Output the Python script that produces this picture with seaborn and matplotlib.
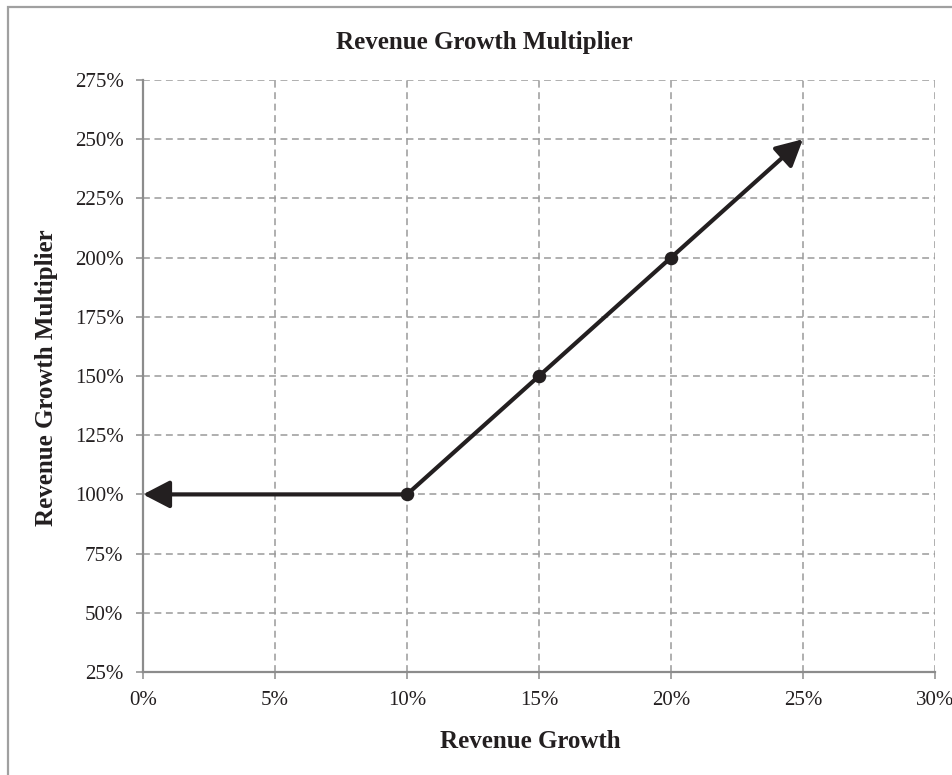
import matplotlib
matplotlib.use("Agg")
import matplotlib.pyplot as plt
import matplotlib.patches as mpatches
from matplotlib.ticker import FuncFormatter
import seaborn as sns
import pandas as pd

# Revenue growth (%) and the multiplier (%) applied at each level
growth = [0, 10, 15, 20, 25]
multiplier = [100, 100, 150, 200, 250]
marked_growth = [10, 15, 20]
marked_multiplier = [100, 150, 200]

x_ticks = [0, 5, 10, 15, 20, 25, 30]
y_ticks = [25, 50, 75, 100, 125, 150, 175, 200, 225, 250, 275]

sns.set_theme(style="white")
plt.rcParams["font.family"] = ["Liberation Serif", "DejaVu Serif"]

W, H = 953, 775
fig = plt.figure(figsize=(W / 100, H / 100), dpi=100)
ax = fig.add_axes([143 / W, 1 - 672 / H, (935 - 143) / W, (672 - 80) / H])

line_df = pd.DataFrame({"growth": growth, "multiplier": multiplier})
pts_df = pd.DataFrame({"growth": marked_growth, "multiplier": marked_multiplier})

ink = "#231f20"
sns.lineplot(data=line_df.iloc[1:-1], x="growth", y="multiplier", ax=ax,
             color=ink, linewidth=3.0, sort=False, zorder=4)
sns.scatterplot(data=pts_df, x="growth", y="multiplier", ax=ax,
                color=ink, s=95, linewidth=0, zorder=5)

# Open-ended segments drawn as arrows
arrow_style = dict(arrowstyle="-|>,head_length=1.35,head_width=0.7",
                   color=ink, lw=3.0, shrinkA=0, shrinkB=0)
ax.annotate("", xy=(growth[0], multiplier[0]), xytext=(growth[1], multiplier[1]),
            arrowprops=arrow_style, zorder=4)
ax.annotate("", xy=(growth[-1], multiplier[-1]), xytext=(growth[-2], multiplier[-2]),
            arrowprops=arrow_style, zorder=4)

ax.set_xlim(0, 30)
ax.set_ylim(25, 275)
ax.set_xticks(x_ticks)
ax.set_yticks(y_ticks)
ax.xaxis.set_major_formatter(FuncFormatter(lambda v, p: f"{v:.0f}%"))
ax.yaxis.set_major_formatter(FuncFormatter(lambda v, p: f"{v:.0f}%"))

grid_c = "#9a9a9a"
ax.grid(True, color=grid_c, linestyle=(0, (4.5, 3)), linewidth=1.1)
ax.set_axisbelow(True)
for side in ("top", "right"):
    ax.spines[side].set_visible(False)
for side in ("left", "bottom"):
    ax.spines[side].set_color("#8c8c8c")
    ax.spines[side].set_linewidth(1.6)

ax.tick_params(axis="both", which="major", direction="out", length=5,
               width=1.1, color="#8c8c8c", labelsize=15, labelcolor=ink,
               left=True, bottom=True, pad=9)

ax.set_xlabel("Revenue Growth", fontsize=18, fontweight="bold", color=ink)
ax.xaxis.set_label_coords(530 / W, 1 - 748 / H, transform=fig.transFigure)
ax.xaxis.label.set_va("baseline")
ax.set_ylabel("Revenue Growth Multiplier", fontsize=18, fontweight="bold", color=ink)
ax.yaxis.set_label_coords(47 / W, 1 - 378 / H, transform=fig.transFigure)
ax.yaxis.label.set_va("center")

fig.text(484 / W, 1 - 49 / H, "Revenue Growth Multiplier", ha="center", va="baseline",
         fontsize=18, fontweight="bold", color=ink)

# Chart frame
fig.patches.append(mpatches.Rectangle((8 / W, -0.02), 1.0, 1 - 7 / H + 0.02,
                                      transform=fig.transFigure, fill=False,
                                      edgecolor="#a0a0a0", linewidth=1.6))

fig.savefig("out.png", dpi=100, facecolor="white")
